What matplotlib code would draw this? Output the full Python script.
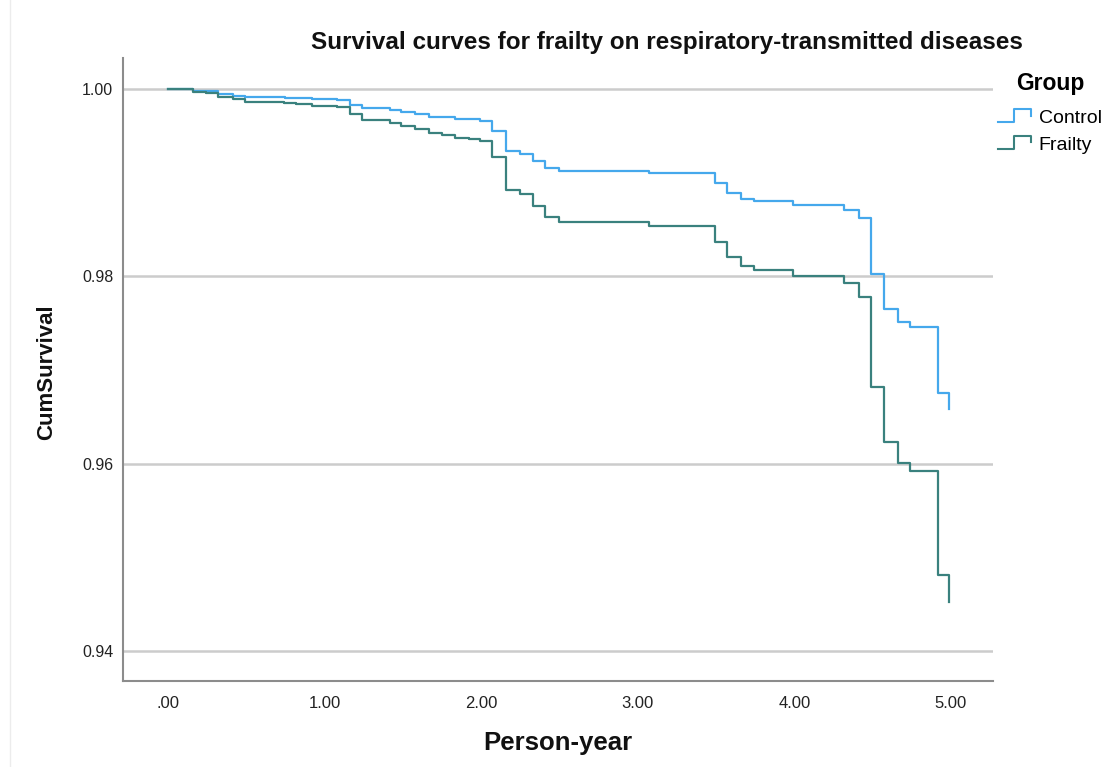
import matplotlib
matplotlib.use("Agg")
import matplotlib.pyplot as plt
from matplotlib.lines import Line2D
from matplotlib.legend_handler import HandlerBase
import matplotlib.font_manager as fm

# ---------------- data ----------------
control_t = [0.00, 0.16, 0.32, 0.415, 0.49, 0.75, 0.92, 1.08, 1.16, 1.24, 1.42, 1.49,
             1.58, 1.67, 1.83, 1.99, 2.07, 2.16, 2.25, 2.33, 2.41, 2.50, 3.07, 3.49,
             3.57, 3.66, 3.74, 3.99, 4.32, 4.41, 4.49, 4.57, 4.66, 4.74, 4.92, 4.99]
control_s = [1.00000, 0.99979, 0.99947, 0.99928, 0.99911, 0.99901, 0.99890, 0.99879,
             0.99832, 0.99797, 0.99776, 0.99758, 0.99733, 0.99704, 0.99677, 0.99662,
             0.99555, 0.99333, 0.99306, 0.99228, 0.99153, 0.99125, 0.99106, 0.98993,
             0.98887, 0.98826, 0.98804, 0.98762, 0.98708, 0.98620, 0.98020, 0.97648,
             0.97516, 0.97456, 0.96758, 0.96581]

frailty_t = [0.00, 0.16, 0.24, 0.32, 0.415, 0.49, 0.74, 0.82, 0.92, 1.08, 1.16, 1.24,
             1.42, 1.49, 1.58, 1.67, 1.75, 1.83, 1.92, 1.99, 2.07, 2.16, 2.25, 2.33,
             2.41, 2.50, 3.07, 3.49, 3.57, 3.66, 3.74, 3.99, 4.32, 4.41, 4.49, 4.57,
             4.66, 4.74, 4.92, 4.99]
frailty_s = [1.00000, 0.99971, 0.99960, 0.99918, 0.99896, 0.99864, 0.99854, 0.99840,
             0.99819, 0.99805, 0.99733, 0.99669, 0.99640, 0.99610, 0.99570, 0.99527,
             0.99509, 0.99477, 0.99463, 0.99450, 0.99279, 0.98927, 0.98874, 0.98751,
             0.98637, 0.98577, 0.98541, 0.98363, 0.98203, 0.98114, 0.98068, 0.98004,
             0.97926, 0.97776, 0.96822, 0.96228, 0.96010, 0.95922, 0.94811, 0.94527]

x_ticks = [0, 1, 2, 3, 4, 5]
x_tick_labels = [".00", "1.00", "2.00", "3.00", "4.00", "5.00"]
y_ticks = [0.94, 0.96, 0.98, 1.00]
y_tick_labels = ["0.94", "0.96", "0.98", "1.00"]
group_labels = ["Control", "Frailty"]

# ---------------- style ----------------
installed = {f.name for f in fm.fontManager.ttflist}
base_font = "Liberation Sans" if "Liberation Sans" in installed else "DejaVu Sans"
narrow_font = "Liberation Sans Narrow" if "Liberation Sans Narrow" in installed else base_font
plt.rcParams["font.family"] = [base_font, "DejaVu Sans"]

col_control = "#45a8ec"
col_frailty = "#3a817e"
grid_col = "#cccccc"
spine_col = "#8c8c8c"

fig = plt.figure(figsize=(11.05, 7.67), dpi=100)
ax = fig.add_axes([0.1113, 0.1121, 0.7873, 0.8123])

ax.plot(control_t, control_s, drawstyle="steps-post", color=col_control, lw=1.6,
        label=group_labels[0], zorder=3)
ax.plot(frailty_t, frailty_s, drawstyle="steps-post", color=col_frailty, lw=1.6,
        label=group_labels[1], zorder=3)

ax.set_xlim(-0.287, 5.268)
ax.set_ylim(0.93680, 1.00331)

for yv in y_ticks:
    ax.axhline(yv, color=grid_col, lw=1.8, zorder=1)

ax.set_xticks(x_ticks)
ax.set_xticklabels(x_tick_labels, fontfamily=narrow_font, fontsize=12, color="#222222")
ax.set_yticks(y_ticks)
ax.set_yticklabels(y_tick_labels, fontsize=11.5, color="#222222")
ax.tick_params(axis="x", length=0, pad=11)
ax.tick_params(axis="y", length=0, pad=7)

for s in ["top", "right"]:
    ax.spines[s].set_visible(False)
for s in ["left", "bottom"]:
    ax.spines[s].set_color(spine_col)
    ax.spines[s].set_linewidth(1.5)

ax.set_xlabel("Person-year", fontsize=18.5, fontweight="bold", color="#111111")
ax.xaxis.set_label_coords(0.5, -0.08)
ax.set_ylabel("CumSurvival", fontsize=16, fontweight="bold", color="#111111")
ax.yaxis.set_label_coords(-0.076, 0.495)

fig.text(667 / 1105, 1 - 42 / 767, "Survival curves for frailty on respiratory-transmitted diseases",
         ha="center", va="center", fontsize=17.5, fontweight="bold", color="#111111")


class StepHandler(HandlerBase):
    def create_artists(self, legend, orig_handle, xdescent, ydescent, width, height,
                       fontsize, trans):
        x0, x1 = -xdescent, -xdescent + width
        y0, y1 = -ydescent, -ydescent + height
        xm = x0 + 0.5 * (x1 - x0)
        xs = [x0, xm, xm, x1, x1]
        ys = [y0 + 0.1 * height, y0 + 0.1 * height, y1, y1, y0 + 0.55 * height]
        ln = Line2D(xs, ys, color=orig_handle.get_color(), lw=1.5)
        ln.set_transform(trans)
        return [ln]


handles = ax.get_lines()[:2]
leg = ax.legend(handles, group_labels, handler_map={Line2D: StepHandler()},
                loc="upper left", bbox_to_anchor=(996 / 1105, 1 - 70 / 767),
                bbox_transform=fig.transFigure, frameon=False, title="Group",
                prop={"family": narrow_font, "size": 14}, handlelength=1.7,
                handleheight=0.8, handletextpad=0.4, labelspacing=0.45,
                borderaxespad=0, borderpad=0.1)
leg.get_title().set_fontsize(16.5)
leg.get_title().set_fontweight("bold")
leg._legend_box.sep = 10

fig.add_artist(Line2D([0.0095, 0.0095], [0, 1], transform=fig.transFigure,
                      color="#ececec", lw=1))

fig.savefig("out.png", dpi=100, facecolor="white")
